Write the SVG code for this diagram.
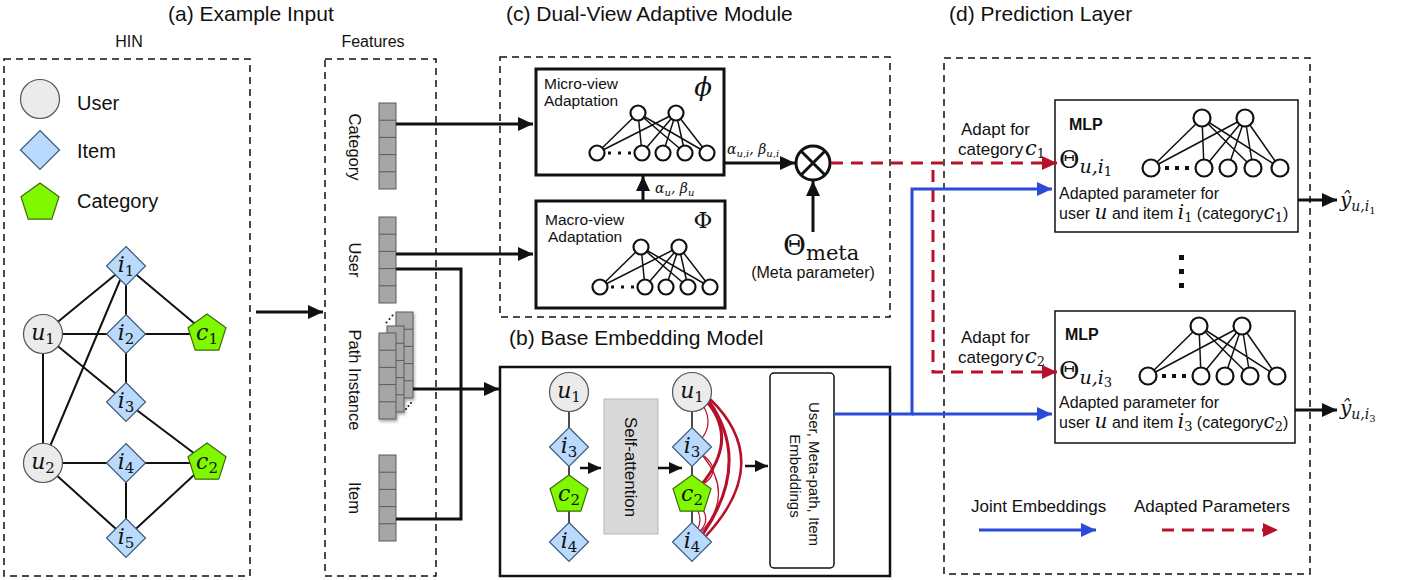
<svg xmlns="http://www.w3.org/2000/svg" xmlns:xlink="http://www.w3.org/1999/xlink" width="1403" height="580" viewBox="0 0 1403 580">
  <style>
    .sans { font-family: "Liberation Sans", Arial, sans-serif; fill: #111; }
    .title { font-size: 21px; }
    .panel { fill: none; stroke: #111; stroke-width: 1.5; stroke-dasharray: 7 5; }
    .box { fill: #fff; stroke: #111; }
    .user { fill: #ebebeb; stroke: #555; stroke-width: 1.2; }
    .item { fill: #b9dafc; stroke: #3d5c7a; stroke-width: 1.2; }
    .cat { fill: #80f800; stroke: #3f6b10; stroke-width: 1.2; }
    .mi { font-family: "DejaVu Serif", "Liberation Serif", serif; font-style: italic; fill: #111; }
    .mr { font-family: "DejaVu Serif", "Liberation Serif", serif; font-style: normal; fill: #111; }
    .lbl { font-size: 22px; }
    .lbl tspan { font-style: normal; font-size: 15px; }
    .edge { stroke: #111; stroke-width: 2; fill: none; }
    .cell { fill: #a6a6a6; stroke: #5a5a5a; stroke-width: 1; }
    .arrow { stroke: #111; stroke-width: 3; fill: none; marker-end: url(#ah); }
    .arrow-s { stroke: #111; stroke-width: 2.5; fill: none; marker-end: url(#ahs); }
    .blue { stroke: #2b4ad6; stroke-width: 3; fill: none; }
    .red { stroke: #b8102a; stroke-width: 3; fill: none; stroke-dasharray: 12 8; }
    .neuron { fill: #fff; stroke: #111; stroke-width: 2.2; }
    .syn { stroke: #111; stroke-width: 1.5; }
    .att { stroke: #b8102a; fill: none; }
  </style>
  <defs>
    <marker id="ah" markerUnits="userSpaceOnUse" markerWidth="16" markerHeight="14" refX="15" refY="7" orient="auto">
      <path d="M0,0 L15,7 L0,14 Z" fill="#111"/>
    </marker>
    <marker id="ahs" markerUnits="userSpaceOnUse" markerWidth="14" markerHeight="12" refX="13" refY="6" orient="auto">
      <path d="M0,0 L13,6 L0,12 Z" fill="#111"/>
    </marker>
    <marker id="ahb" markerUnits="userSpaceOnUse" markerWidth="16" markerHeight="14" refX="15" refY="7" orient="auto">
      <path d="M0,0 L15,7 L0,14 Z" fill="#2b4ad6"/>
    </marker>
    <marker id="ahr" markerUnits="userSpaceOnUse" markerWidth="16" markerHeight="14" refX="15" refY="7" orient="auto">
      <path d="M0,0 L15,7 L0,14 Z" fill="#b8102a"/>
    </marker>
    <circle id="uN" r="19.5" class="user"/>
    <path id="iN" d="M0,-19.5 L19.5,0 L0,19.5 L-19.5,0 Z" class="item"/>
    <path id="cN" d="M0,-20 L19,-6.2 L11.8,16.2 L-11.8,16.2 L-19,-6.2 Z" class="cat"/>
    <g id="vec">
      <rect class="cell" x="0" y="0" width="17" height="86"/>
      <path d="M0,17.2 H17 M0,34.4 H17 M0,51.6 H17 M0,68.8 H17" stroke="#5a5a5a" stroke-width="1"/>
    </g>
    <filter id="shadow" x="-30%" y="-10%" width="160%" height="130%">
      <feDropShadow dx="1" dy="2" stdDeviation="1.5" flood-color="#000" flood-opacity="0.35"/>
    </filter>
    <!-- small two-layer perceptron used in the adaptation and prediction blocks -->
    <g id="net">
      <path class="syn" d="M41,0 L0,40 M41,0 L45,40 M41,0 L88,40 M41,0 L110,40 M79,0 L0,40 M79,0 L45,40 M79,0 L66,40 M79,0 L88,40 M79,0 L110,40"/>
      <circle class="neuron" cx="41" cy="0" r="7.5"/>
      <circle class="neuron" cx="79" cy="0" r="7.5"/>
      <circle class="neuron" cx="0" cy="40" r="7.5"/>
      <circle class="neuron" cx="45" cy="40" r="7.5"/>
      <circle class="neuron" cx="66" cy="40" r="7.5"/>
      <circle class="neuron" cx="88" cy="40" r="7.5"/>
      <circle class="neuron" cx="110" cy="40" r="7.5"/>
      <rect x="11" y="38.5" width="3" height="3" fill="#111"/>
      <rect x="21" y="38.5" width="3" height="3" fill="#111"/>
      <rect x="31" y="38.5" width="3" height="3" fill="#111"/>
    </g>
    <g id="netL">
      <path class="syn" d="M51,0 L0,50 M51,0 L53,50 M51,0 L102,50 M51,0 L129,50 M94,0 L0,50 M94,0 L53,50 M94,0 L77,50 M94,0 L102,50 M94,0 L129,50"/>
      <circle class="neuron" cx="51" cy="0" r="8.5"/>
      <circle class="neuron" cx="94" cy="0" r="8.5"/>
      <circle class="neuron" cx="0" cy="50" r="8.5"/>
      <circle class="neuron" cx="53" cy="50" r="8.5"/>
      <circle class="neuron" cx="77" cy="50" r="8.5"/>
      <circle class="neuron" cx="102" cy="50" r="8.5"/>
      <circle class="neuron" cx="129" cy="50" r="8.5"/>
      <rect x="14" y="48" width="4" height="4" fill="#111"/>
      <rect x="24" y="48" width="4" height="4" fill="#111"/>
      <rect x="34" y="48" width="4" height="4" fill="#111"/>
    </g>
  </defs>

  <rect width="1403" height="580" fill="#fff"/>

  <!-- section titles -->
  <text class="sans title" x="168" y="21">(a) Example Input</text>
  <text class="sans title" x="506" y="21">(c) Dual-View Adaptive Module</text>
  <text class="sans title" x="949" y="21">(d) Prediction Layer</text>
  <text class="sans title" x="509" y="345">(b) Base Embedding Model</text>

  <!-- (a) HIN panel -->
  <g id="hin">
    <text class="sans" x="129" y="47" font-size="16" text-anchor="middle">HIN</text>
    <rect class="panel" x="4" y="59" width="246" height="517"/>
    <g id="legend">
      <use href="#uN" x="40" y="99"/>
      <text class="sans" x="77" y="110" font-size="20">User</text>
      <use href="#iN" x="40" y="150"/>
      <text class="sans" x="77" y="158" font-size="20">Item</text>
      <use href="#cN" x="40" y="203"/>
      <text class="sans" x="77" y="208" font-size="20">Category</text>
    </g>
    <g id="hin-edges">
      <path class="edge" d="M126,266 L43,334 M126,266 L43,463 M126,266 L126,334 M126,266 L207,334 M43,334 L207,334 M126,334 L126,402 M43,334 L126,402 M43,334 L43,463 M126,402 L207,463 M43,463 L207,463 M126,463 L126,538 M43,463 L126,538 M207,463 L126,538"/>
    </g>
    <g id="n-i1"><use href="#iN" x="126" y="266"/><text class="mi lbl" x="126" y="272" text-anchor="middle">i<tspan dy="4">1</tspan></text></g>
    <g id="n-u1"><use href="#uN" x="43" y="334"/><text class="mi lbl" x="43" y="340" text-anchor="middle">u<tspan dy="4">1</tspan></text></g>
    <g id="n-i2"><use href="#iN" x="126" y="334"/><text class="mi lbl" x="126" y="340" text-anchor="middle">i<tspan dy="4">2</tspan></text></g>
    <g id="n-c1"><use href="#cN" x="207" y="334"/><text class="mi lbl" x="207" y="340" text-anchor="middle">c<tspan dy="4">1</tspan></text></g>
    <g id="n-i3"><use href="#iN" x="126" y="402"/><text class="mi lbl" x="126" y="408" text-anchor="middle">i<tspan dy="4">3</tspan></text></g>
    <g id="n-u2"><use href="#uN" x="43" y="463"/><text class="mi lbl" x="43" y="469" text-anchor="middle">u<tspan dy="4">2</tspan></text></g>
    <g id="n-i4"><use href="#iN" x="126" y="463"/><text class="mi lbl" x="126" y="469" text-anchor="middle">i<tspan dy="4">4</tspan></text></g>
    <g id="n-c2"><use href="#cN" x="207" y="463"/><text class="mi lbl" x="207" y="469" text-anchor="middle">c<tspan dy="4">2</tspan></text></g>
    <g id="n-i5"><use href="#iN" x="126" y="538"/><text class="mi lbl" x="126" y="544" text-anchor="middle">i<tspan dy="4">5</tspan></text></g>
  </g>

  <!-- features panel -->
  <g id="features">
    <text class="sans" x="373" y="47" font-size="16" text-anchor="middle">Features</text>
    <rect class="panel" x="325" y="59" width="111" height="517"/>
    <g id="f-category">
      <use href="#vec" x="379" y="103"/>
      <text class="sans" font-size="16.5" text-anchor="middle" transform="translate(349,147) rotate(90)">Category</text>
    </g>
    <g id="f-user">
      <use href="#vec" x="379" y="217"/>
      <text class="sans" font-size="16.5" text-anchor="middle" transform="translate(349,260) rotate(90)">User</text>
    </g>
    <g id="f-path">
      <g filter="url(#shadow)">
        <use href="#vec" x="396" y="312"/>
        <use href="#vec" x="387" y="326"/>
        <use href="#vec" x="379" y="333"/>
      </g>
      <g fill="#111">
        <circle cx="386.5" cy="322.5" r="1"/><circle cx="389.5" cy="319" r="1"/><circle cx="392.5" cy="315.5" r="1"/>
        <circle cx="406" cy="409" r="1"/><circle cx="408.5" cy="406" r="1"/><circle cx="411" cy="403" r="1"/>
      </g>
      <text class="sans" font-size="16.5" text-anchor="middle" transform="translate(349,380) rotate(90)">Path Instance</text>
    </g>
    <g id="f-item">
      <use href="#vec" x="379" y="455"/>
      <text class="sans" font-size="16.5" text-anchor="middle" transform="translate(349,498) rotate(90)">Item</text>
    </g>
  </g>

  <!-- (c) dual-view adaptive module -->
  <g id="dual-view">
    <rect class="panel" x="500" y="57" width="390" height="260"/>
    <g id="micro">
      <rect class="box" x="536" y="69" width="188" height="106" stroke-width="3"/>
      <text class="sans" x="544" y="89" font-size="15.5">Micro-view</text>
      <text class="sans" x="544" y="106" font-size="15.5">Adaptation</text>
      <text class="mi" x="703" y="96" font-size="26" text-anchor="middle">ϕ</text>
      <use href="#net" x="597" y="113"/>
    </g>
    <g id="macro">
      <rect class="box" x="536" y="201" width="189" height="107" stroke-width="3"/>
      <text class="sans" x="545" y="225" font-size="15.5">Macro-view</text>
      <text class="sans" x="548" y="242" font-size="15.5">Adaptation</text>
      <text class="mr" x="703" y="228" font-size="23" text-anchor="middle">Φ</text>
      <use href="#net" x="600" y="247"/>
    </g>
    <g id="combine">
      <circle cx="813" cy="163" r="17" fill="#fff" stroke="#111" stroke-width="3"/>
      <path d="M801,151 L825,175 M825,151 L801,175" stroke="#111" stroke-width="3"/>
    </g>
    <g id="theta-meta">
      <text class="mr" x="783" y="255" font-size="28">Θ<tspan font-size="21" dy="5">meta</tspan></text>
      <text class="sans" x="813" y="278" font-size="16" text-anchor="middle">(Meta parameter)</text>
    </g>
    <text class="mi" x="727" y="154" font-size="14">α<tspan font-size="10" dy="3">u,i</tspan><tspan dy="-3">, β</tspan><tspan font-size="10" dy="3">u,i</tspan></text>
    <text class="mi" x="655" y="193" font-size="14">α<tspan font-size="10" dy="3">u</tspan><tspan dy="-3">, β</tspan><tspan font-size="10" dy="3">u</tspan></text>
  </g>

  <!-- (b) base embedding model -->
  <g id="base-model">
    <rect class="box" x="500" y="367" width="390" height="209" stroke-width="2.5"/>
    <g id="path-in">
      <path d="M569,392 V542" stroke="#111" stroke-width="1.5"/>
      <use href="#uN" x="569" y="392"/>
      <text class="mi lbl" x="569" y="398" text-anchor="middle">u<tspan dy="4">1</tspan></text>
      <use href="#iN" x="569" y="447"/>
      <text class="mi lbl" x="569" y="453" text-anchor="middle">i<tspan dy="4">3</tspan></text>
      <use href="#cN" x="569" y="495"/>
      <text class="mi lbl" x="569" y="501" text-anchor="middle">c<tspan dy="4">2</tspan></text>
      <use href="#iN" x="569" y="542"/>
      <text class="mi lbl" x="569" y="548" text-anchor="middle">i<tspan dy="4">4</tspan></text>
    </g>
    <g id="self-attention">
      <rect x="604" y="399" width="54" height="135" fill="#d9d9d9" stroke="#b5b5b5" stroke-width="1"/>
      <text class="sans" font-size="17" text-anchor="middle" transform="translate(625,467) rotate(90)">Self-attention</text>
    </g>
    <g id="path-out">
      <path d="M692,392 V542" stroke="#111" stroke-width="1.5"/>
      <g class="att">
        <path d="M704,407 Q713,424 702,438" stroke-width="1.2"/>
        <path d="M708,403 Q738,440 702,484" stroke-width="3"/>
        <path d="M709,401 Q752,462 703,534" stroke-width="3"/>
        <path d="M710,399 Q775,462 705,537" stroke-width="2.5"/>
        <path d="M703,455 Q722,470 705,483" stroke-width="1.2"/>
        <path d="M703,456 Q735,495 701,532" stroke-width="1.2"/>
        <path d="M697,509 Q703,520 697,530" stroke-width="1.2"/>
        <path d="M701,507 Q711,520 700,531" stroke-width="1.2"/>
      </g>
      <use href="#uN" x="692" y="392"/>
      <text class="mi lbl" x="692" y="398" text-anchor="middle">u<tspan dy="4">1</tspan></text>
      <use href="#iN" x="692" y="447"/>
      <text class="mi lbl" x="692" y="453" text-anchor="middle">i<tspan dy="4">3</tspan></text>
      <use href="#cN" x="692" y="495"/>
      <text class="mi lbl" x="692" y="501" text-anchor="middle">c<tspan dy="4">2</tspan></text>
      <use href="#iN" x="692" y="542"/>
      <text class="mi lbl" x="692" y="548" text-anchor="middle">i<tspan dy="4">4</tspan></text>
    </g>
    <g id="embeddings">
      <rect class="box" x="770" y="373" width="64" height="195" rx="4" stroke-width="1.5"/>
      <text class="sans" font-size="15" text-anchor="middle" transform="translate(809,474) rotate(90)">User, Meta-path, Item</text>
      <text class="sans" font-size="15" text-anchor="middle" transform="translate(790,476) rotate(90)">Embeddings</text>
    </g>
  </g>

  <!-- (d) prediction layer -->
  <g id="prediction">
    <rect class="panel" x="944" y="58" width="366" height="516"/>
    <g id="mlp-1">
      <rect class="box" x="1055" y="100" width="243" height="132" stroke-width="1.5"/>
      <text class="sans" x="1069" y="130" font-size="16" font-weight="bold">MLP</text>
      <use href="#netL" x="1151" y="118"/>
      <text class="mr" x="1059" y="168" font-size="25">Θ<tspan class="mi" font-size="19" dy="5">u,i</tspan><tspan font-size="13" dy="3">1</tspan></text>
      <text class="sans" x="1059" y="199" font-size="16">Adapted parameter for</text>
      <text class="sans" x="1059" y="219" font-size="16">user <tspan class="mi" font-size="20">u</tspan> and item <tspan class="mi" font-size="20">i</tspan><tspan class="mr" font-size="13" dy="3">1</tspan><tspan dy="-3"> (category</tspan><tspan class="mi" font-size="20">c</tspan><tspan class="mr" font-size="13" dy="3">1</tspan><tspan dy="-3">)</tspan></text>
    </g>
    <g id="mlp-2">
      <rect class="box" x="1055" y="311" width="240" height="132" stroke-width="1.5"/>
      <text class="sans" x="1065" y="340" font-size="16" font-weight="bold">MLP</text>
      <use href="#netL" x="1148" y="326"/>
      <text class="mr" x="1059" y="379" font-size="25">Θ<tspan class="mi" font-size="19" dy="5">u,i</tspan><tspan font-size="13" dy="3">3</tspan></text>
      <text class="sans" x="1059" y="408" font-size="16">Adapted parameter for</text>
      <text class="sans" x="1059" y="428" font-size="16">user <tspan class="mi" font-size="20">u</tspan> and item <tspan class="mi" font-size="20">i</tspan><tspan class="mr" font-size="13" dy="3">3</tspan><tspan dy="-3"> (category</tspan><tspan class="mi" font-size="20">c</tspan><tspan class="mr" font-size="13" dy="3">2</tspan><tspan dy="-3">)</tspan></text>
    </g>
    <g id="ellipsis" fill="#111">
      <rect x="1179" y="255" width="5" height="5"/>
      <rect x="1179" y="269" width="5" height="5"/>
      <rect x="1179" y="283" width="5" height="5"/>
    </g>
    <text class="sans" x="961" y="135" font-size="17">Adapt for</text>
    <text class="sans" x="958" y="155" font-size="17">category</text>
    <text class="mi" x="1025" y="155" font-size="21">c<tspan class="mr" font-size="13" dy="3">1</tspan></text>
    <text class="sans" x="961" y="343" font-size="17">Adapt for</text>
    <text class="sans" x="958" y="363" font-size="17">category</text>
    <text class="mi" x="1025" y="363" font-size="21">c<tspan class="mr" font-size="13" dy="3">2</tspan></text>
    <text class="mi" x="1340" y="207" font-size="20">ŷ<tspan font-size="14" dy="4">u,i</tspan><tspan class="mr" font-size="10" dy="3">1</tspan></text>
    <text class="mi" x="1340" y="415" font-size="20">ŷ<tspan font-size="14" dy="4">u,i</tspan><tspan class="mr" font-size="10" dy="3">3</tspan></text>
    <g id="legend-lines">
      <text class="sans" x="971" y="512" font-size="17">Joint Embeddings</text>
      <text class="sans" x="1134" y="512" font-size="17">Adapted Parameters</text>
      <path class="blue" d="M979,530 H1096" marker-end="url(#ahb)"/>
      <path class="red" d="M1162,530 H1278" marker-end="url(#ahr)"/>
    </g>
  </g>

  <!-- connectors -->
  <g id="connectors">
    <path class="arrow" d="M256,312 H323"/>
    <path class="arrow" d="M396,124 H533"/>
    <path class="arrow" d="M396,254 H533"/>
    <path d="M396,269 H461 V519 H396" stroke="#111" stroke-width="3" fill="none"/>
    <path class="arrow" d="M413,389 H499"/>
    <path class="arrow" d="M643,201 V176"/>
    <path class="arrow" d="M724,163 H795"/>
    <path class="arrow" d="M813,232 V181"/>
    <path class="arrow-s" d="M580,468 H601"/>
    <path class="arrow-s" d="M658,468 H682"/>
    <path class="arrow-s" d="M745,466 H768"/>
    <path class="red" d="M831,163 H1057" marker-end="url(#ahr)"/>
    <path class="red" d="M933,170 V372 H1057" marker-end="url(#ahr)"/>
    <path class="blue" d="M834,414 H912 V189 H1052" marker-end="url(#ahb)"/>
    <path class="blue" d="M912,414 H1052" marker-end="url(#ahb)"/>
    <path class="arrow" d="M1298,200 H1337"/>
    <path class="arrow" d="M1295,410 H1337"/>
  </g>
</svg>
